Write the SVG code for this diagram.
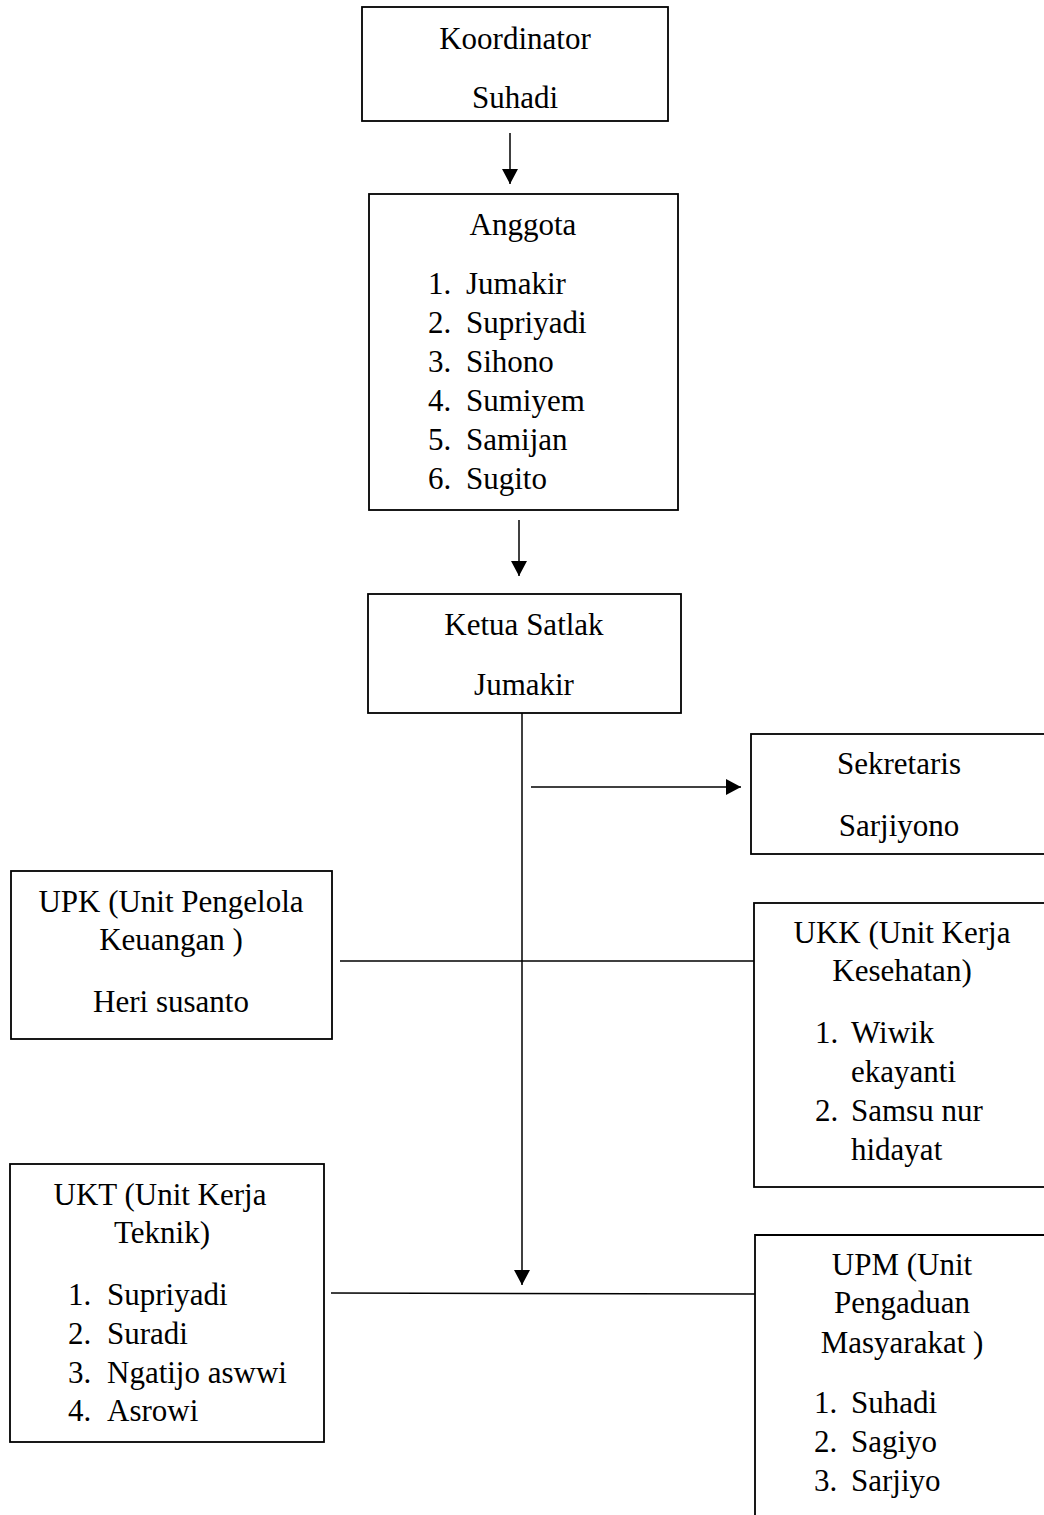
<svg xmlns="http://www.w3.org/2000/svg" width="1044" height="1515" viewBox="0 0 1044 1515">
<style>
.box{fill:#fff;stroke:#000;stroke-width:1.8}
.t{font-family:"Liberation Serif","Times New Roman",serif;font-size:31px;fill:#000}
.c{text-anchor:middle}
.ln{stroke:#000;stroke-width:1.5;fill:none}
</style>
<defs>
<marker id="ah" markerUnits="userSpaceOnUse" markerWidth="16" markerHeight="16" refX="15" refY="8" orient="auto">
<path d="M0,0 L15,8 L0,16 Z" fill="#000"/>
</marker>
</defs>
<rect width="1044" height="1515" fill="#fff"/>
<g id="connectors">
<line class="ln" x1="510" y1="133" x2="510" y2="184" marker-end="url(#ah)"/>
<line class="ln" x1="519" y1="520" x2="519" y2="576" marker-end="url(#ah)"/>
<line class="ln" x1="522" y1="713" x2="522" y2="1285" marker-end="url(#ah)"/>
<line class="ln" x1="531" y1="787" x2="741" y2="787" marker-end="url(#ah)"/>
<line class="ln" x1="340" y1="961" x2="754" y2="961"/>
<line class="ln" x1="331" y1="1293" x2="755" y2="1294"/>
</g>
<g id="koordinator">
<rect class="box" x="362" y="7" width="306" height="114"/>
<text class="t c" x="515" y="49">Koordinator</text>
<text class="t c" x="515" y="108">Suhadi</text>
</g>
<g id="anggota">
<rect class="box" x="369" y="194" width="309" height="316"/>
<text class="t c" x="523" y="235">Anggota</text>
<text class="t" x="428" y="294">1.</text><text class="t" x="466" y="294">Jumakir</text>
<text class="t" x="428" y="333">2.</text><text class="t" x="466" y="333">Supriyadi</text>
<text class="t" x="428" y="372">3.</text><text class="t" x="466" y="372">Sihono</text>
<text class="t" x="428" y="411">4.</text><text class="t" x="466" y="411">Sumiyem</text>
<text class="t" x="428" y="450">5.</text><text class="t" x="466" y="450">Samijan</text>
<text class="t" x="428" y="489">6.</text><text class="t" x="466" y="489">Sugito</text>
</g>
<g id="ketua">
<rect class="box" x="368" y="594" width="313" height="119"/>
<text class="t c" x="524" y="635">Ketua Satlak</text>
<text class="t c" x="524" y="695">Jumakir</text>
</g>
<g id="sekretaris">
<rect class="box" x="751" y="734" width="300" height="120"/>
<text class="t c" x="899" y="774">Sekretaris</text>
<text class="t c" x="899" y="836">Sarjiyono</text>
</g>
<g id="upk">
<rect class="box" x="11" y="871" width="321" height="168"/>
<text class="t c" x="171" y="912">UPK (Unit Pengelola</text>
<text class="t c" x="171" y="950">Keuangan )</text>
<text class="t c" x="171" y="1012">Heri susanto</text>
</g>
<g id="ukk">
<rect class="box" x="754" y="903" width="300" height="284"/>
<text class="t c" x="902" y="943">UKK (Unit Kerja</text>
<text class="t c" x="902" y="981">Kesehatan)</text>
<text class="t" x="815" y="1043">1.</text><text class="t" x="851" y="1043">Wiwik</text>
<text class="t" x="851" y="1082">ekayanti</text>
<text class="t" x="815" y="1121">2.</text><text class="t" x="851" y="1121">Samsu nur</text>
<text class="t" x="851" y="1160">hidayat</text>
</g>
<g id="ukt">
<rect class="box" x="10" y="1164" width="314" height="278"/>
<text class="t c" x="160" y="1205">UKT (Unit Kerja</text>
<text class="t c" x="162" y="1243">Teknik)</text>
<text class="t" x="68" y="1305">1.</text><text class="t" x="107" y="1305">Supriyadi</text>
<text class="t" x="68" y="1344">2.</text><text class="t" x="107" y="1344">Suradi</text>
<text class="t" x="68" y="1383">3.</text><text class="t" x="107" y="1383">Ngatijo aswwi</text>
<text class="t" x="68" y="1421">4.</text><text class="t" x="107" y="1421">Asrowi</text>
</g>
<g id="upm">
<path class="box" d="M755,1530 L755,1235 L1050,1235"/>
<text class="t c" x="902" y="1275">UPM (Unit</text>
<text class="t c" x="902" y="1313">Pengaduan</text>
<text class="t c" x="902" y="1353">Masyarakat )</text>
<text class="t" x="814" y="1413">1.</text><text class="t" x="851" y="1413">Suhadi</text>
<text class="t" x="814" y="1452">2.</text><text class="t" x="851" y="1452">Sagiyo</text>
<text class="t" x="814" y="1491">3.</text><text class="t" x="851" y="1491">Sarjiyo</text>
</g>
</svg>
